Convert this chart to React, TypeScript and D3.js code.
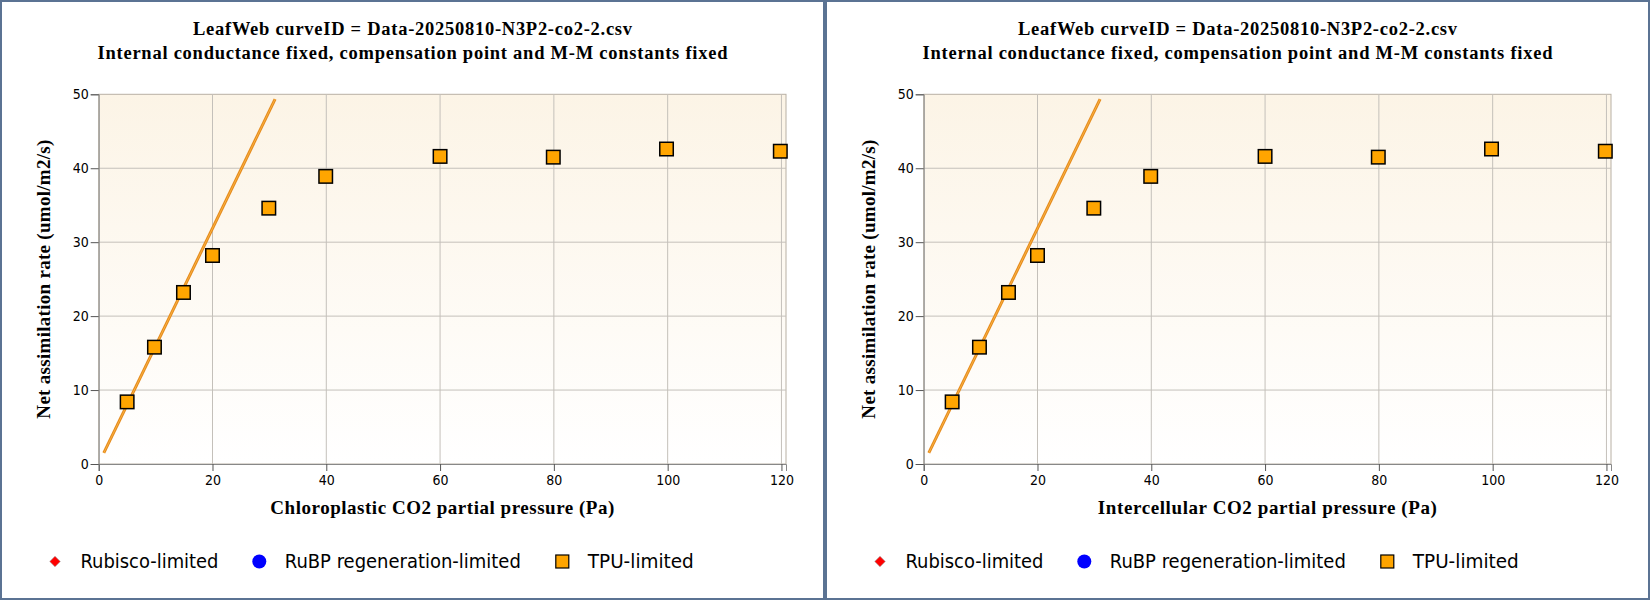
import { useEffect, useRef } from "react"
import * as d3 from "d3"

// measured CO2 partial pressure (Pa) and net assimilation (umol/m2/s)
const co2Values = [5.0, 9.8, 14.9, 20.0, 29.9, 39.9, 60.0, 79.9, 99.8, 119.8]
const tpuValues = [8.4, 15.8, 23.2, 28.2, 34.6, 38.9, 41.6, 41.5, 42.6, 42.3]

// fitted Rubisco-limited curve
const rubiscoX = [0.9, 31.0]
const rubiscoY = [1.5, 49.35]

const xTicks = [0, 20, 40, 60, 80, 100, 120]
const yTicks = [0, 10, 20, 30, 40, 50]

const titleLines = [
  "LeafWeb curveID = Data-20250810-N3P2-co2-2.csv",
  "Internal conductance fixed, compensation point and M-M constants fixed",
]
const titleWidths = [439, 630]
const xLabels = ["Chloroplastic CO2 partial pressure (Pa)", "Intercellular CO2 partial pressure (Pa)"]
const xLabelWidths = [344, 339]
const yLabel = "Net assimilation rate (umol/m2/s)"
const legendItems = ["Rubisco-limited", "RuBP regeneration-limited", "TPU-limited"]
const legendWidths = [138, 236, 106]

const SERIF = "'Liberation Serif', 'Times New Roman', serif"
const SANS = "'DejaVu Sans Condensed', 'DejaVu Sans', sans-serif"

const App = () => {
  const svgRef = useRef<SVGSVGElement | null>(null)

  useEffect(() => {
    if (!svgRef.current) return
    const svg = d3.select(svgRef.current)
    svg.selectAll("*").remove()

    const panelW = 825
    const margin = { left: 98.7, right: 39, top: 94.3, bottom: 136 }
    const plotW = panelW - margin.left - margin.right
    const plotH = 600 - margin.top - margin.bottom

    const defs = svg.append("defs")
    const grad = defs
      .append("linearGradient")
      .attr("id", "bgGrad")
      .attr("x1", 0)
      .attr("y1", 0)
      .attr("x2", 0)
      .attr("y2", 1)
    grad.append("stop").attr("offset", "0%").attr("stop-color", "#fcf4e6")
    grad.append("stop").attr("offset", "100%").attr("stop-color", "#ffffff")

    const xScale = d3.scaleLinear().domain([0, 120.8]).range([0, plotW])
    const yScale = d3.scaleLinear().domain([0, 50]).range([plotH, 0])

    xLabels.forEach((xLabel, i) => {
      const panel = svg.append("g").attr("transform", `translate(${i * panelW},0)`)

      // panel border
      panel
        .append("rect")
        .attr("x", 1)
        .attr("y", 1)
        .attr("width", panelW - 2)
        .attr("height", 598)
        .attr("fill", "#fff")
        .attr("stroke", "#5b7393")
        .attr("stroke-width", 2)

      // title
      titleLines.forEach((line, j) => {
        panel
          .append("text")
          .attr("x", panelW / 2)
          .attr("y", 35 + j * 23.5)
          .attr("text-anchor", "middle")
          .attr("font-family", SERIF)
          .attr("font-weight", "bold")
          .attr("font-size", 18.5)
          .attr("textLength", titleWidths[j])
          .attr("lengthAdjust", "spacing")
          .text(line)
      })

      const g = panel.append("g").attr("transform", `translate(${margin.left},${margin.top})`)

      g.append("rect")
        .attr("width", plotW)
        .attr("height", plotH)
        .attr("fill", "url(#bgGrad)")
        .attr("stroke", "#b8b0a4")
        .attr("stroke-width", 1)

      // grid
      g.append("g")
        .selectAll("line")
        .data(xTicks.filter((t) => t > 0))
        .join("line")
        .attr("x1", (d) => xScale(d))
        .attr("x2", (d) => xScale(d))
        .attr("y1", 0)
        .attr("y2", plotH)
        .attr("stroke", "#c4c0ba")
        .attr("stroke-width", 1)

      g.append("g")
        .selectAll("line")
        .data(yTicks.filter((t) => t > 0 && t < 50))
        .join("line")
        .attr("x1", 0)
        .attr("x2", plotW)
        .attr("y1", (d) => yScale(d))
        .attr("y2", (d) => yScale(d))
        .attr("stroke", "#c4c0ba")
        .attr("stroke-width", 1)

      // axes
      const xAxis = g
        .append("g")
        .attr("transform", `translate(0,${plotH})`)
        .call(d3.axisBottom(xScale).tickValues(xTicks).tickSize(7).tickPadding(4))
      const yAxis = g.append("g").call(d3.axisLeft(yScale).tickValues(yTicks).tickSize(8).tickPadding(2))
      ;[xAxis, yAxis].forEach((ax) => {
        ax.select(".domain").attr("stroke", "#888")
        ax.selectAll(".tick line").attr("stroke", "#555")
        ax.selectAll(".tick text")
          .attr("fill", "#000")
          .attr("font-family", SANS)
          .attr("font-size", 14)
      })

      // Rubisco-limited line
      const line = d3
        .line<number>()
        .x((d) => xScale(d))
        .y((_, k) => yScale(rubiscoY[k]))
      g.append("path")
        .attr("d", line(rubiscoX))
        .attr("fill", "none")
        .attr("stroke", "#e58a1c")
        .attr("stroke-width", 3)
      g.append("path")
        .attr("d", line(rubiscoX))
        .attr("fill", "none")
        .attr("stroke", "#f8b040")
        .attr("stroke-width", 1)

      // TPU-limited points
      const sq = 13.5
      g.selectAll(".tpu")
        .data(co2Values)
        .join("rect")
        .attr("class", "tpu")
        .attr("x", (d) => xScale(d) - sq / 2)
        .attr("y", (_, k) => yScale(tpuValues[k]) - sq / 2)
        .attr("width", sq)
        .attr("height", sq)
        .attr("fill", "#ffa500")
        .attr("stroke", "#000")
        .attr("stroke-width", 1.5)

      // axis titles
      panel
        .append("text")
        .attr("x", margin.left + plotW / 2)
        .attr("y", 514)
        .attr("text-anchor", "middle")
        .attr("font-family", SERIF)
        .attr("font-weight", "bold")
        .attr("font-size", 19)
        .attr("textLength", xLabelWidths[i])
        .attr("lengthAdjust", "spacing")
        .text(xLabel)

      panel
        .append("text")
        .attr("transform", `translate(50,${margin.top + plotH / 2}) rotate(-90)`)
        .attr("text-anchor", "middle")
        .attr("font-family", SERIF)
        .attr("font-weight", "bold")
        .attr("font-size", 19)
        .attr("textLength", 279)
        .attr("lengthAdjust", "spacing")
        .text(yLabel)

      // legend
      const legendX = [55, 259.3, 562.3]
      const legendY = 561.5
      const leg = panel.append("g")
      leg.append("path")
        .attr("d", d3.symbol(d3.symbolDiamond2, 70)())
        .attr("transform", `translate(${legendX[0]},${legendY})`)
        .attr("fill", "#ff0000")
        .attr("stroke", "#999")
        .attr("stroke-width", 0.6)
      leg.append("circle")
        .attr("cx", legendX[1])
        .attr("cy", legendY)
        .attr("r", 7)
        .attr("fill", "#0000ff")
      leg.append("rect")
        .attr("x", legendX[2] - 6.5)
        .attr("y", legendY - 6.5)
        .attr("width", 13)
        .attr("height", 13)
        .attr("fill", "#ffa500")
        .attr("stroke", "#000")
        .attr("stroke-width", 1.2)
      legendItems.forEach((label, k) => {
        leg.append("text")
          .attr("x", legendX[k] + 25.5)
          .attr("y", 568)
          .attr("font-family", SANS)
          .attr("font-size", 19)
          .attr("fill", "#000")
          .attr("textLength", legendWidths[k])
          .attr("lengthAdjust", "spacingAndGlyphs")
          .text(label)
      })
    })
  }, [])

  return (
    <svg
      ref={svgRef}
      width={1650}
      height={600}
      style={{ position: "absolute", left: 0, top: 0, background: "#fff" }}
    />
  )
}

export default App
